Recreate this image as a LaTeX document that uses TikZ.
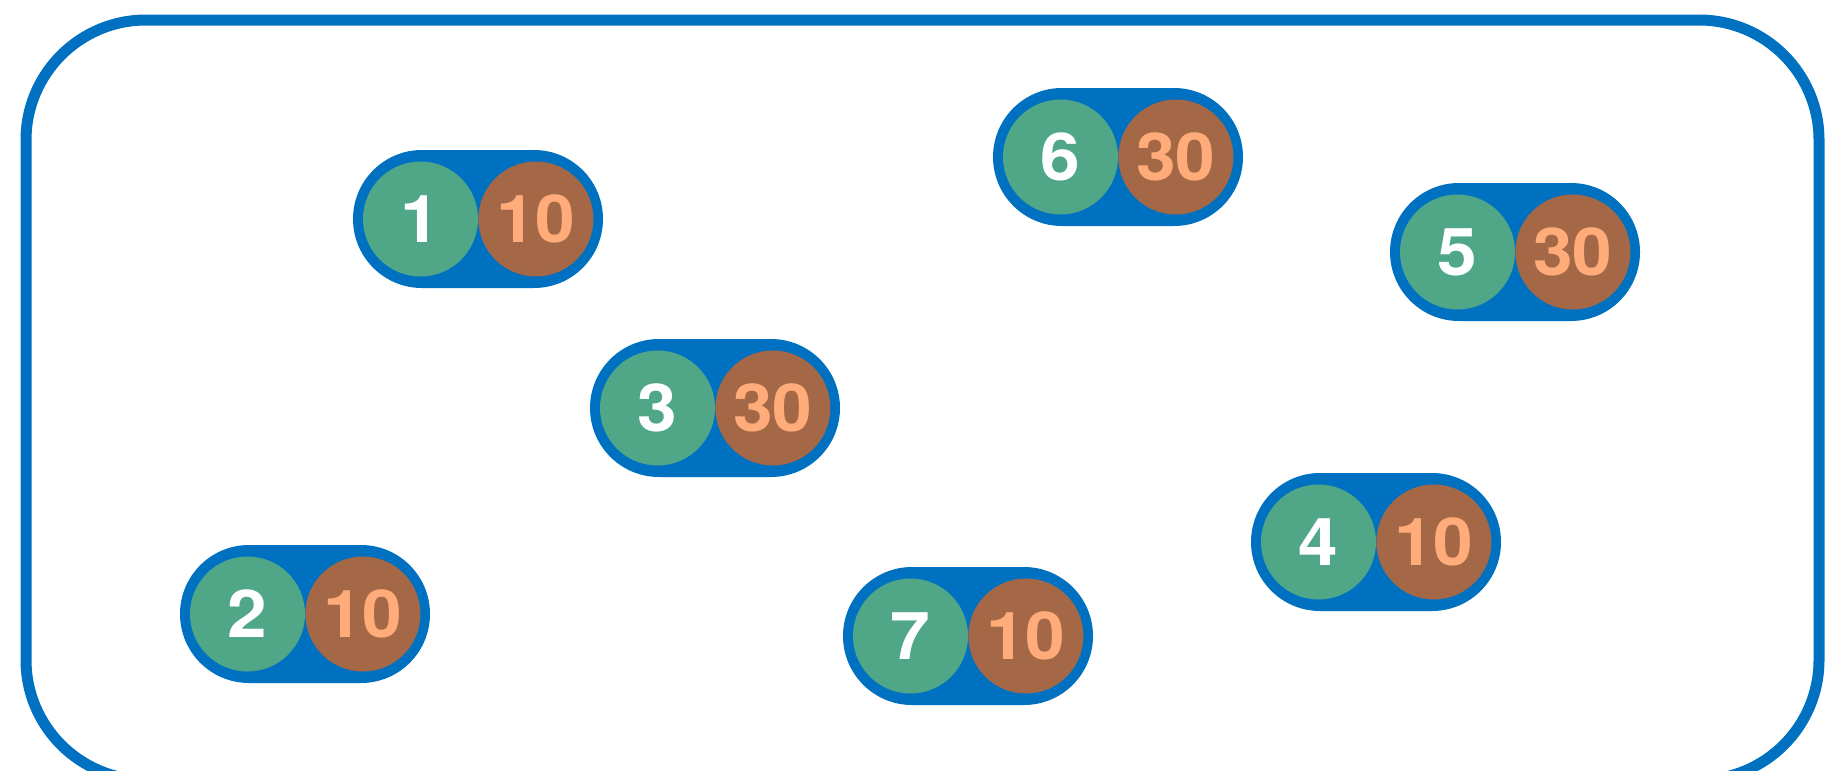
\documentclass[tikz,border=0pt]{standalone}
\usepackage{fontspec}
\setmainfont{TeX Gyre Heros}
\newfontfamily\digitfont[FakeStretch=1.08]{TeX Gyre Heros}
\usetikzlibrary{positioning}

\definecolor{frameblue}{RGB}{0,112,192}
\definecolor{idgreen}{RGB}{79,167,136}
\definecolor{valbrown}{RGB}{164,104,70}
\definecolor{valtext}{RGB}{255,172,122}

\tikzset{
  frame/.style={draw=frameblue, line width=11pt, rounded corners=120pt},
  pill/.style={rectangle, fill=frameblue, rounded corners=69pt, inner sep=0pt,
    minimum width=250pt, minimum height=138pt},
  idnode/.style={circle, fill=idgreen, text=white, inner sep=0pt, minimum size=115pt,
    font=\digitfont\fontsize{66}{66}\selectfont\bfseries},
  valnode/.style={circle, fill=valbrown, text=valtext, inner sep=0pt, minimum size=115pt,
    font=\digitfont\fontsize{66}{66}\selectfont\bfseries},
}

\begin{document}
\begin{tikzpicture}[x=1pt, y=-1pt]
    \useasboundingbox (0,0) rectangle (1842,771);

        % Outer frame
        \draw[frame] (26,20) rectangle (1819,780);

        % Define pills
        \node[pill] (p1) at (478,219) {};
        \node[pill] (p2) at (305,614) {};
        \node[pill] (p3) at (715,408) {};
        \node[pill] (p4) at (1376,542) {};
        \node[pill] (p5) at (1515,252) {};
        \node[pill] (p6) at (1118,157) {};
        \node[pill] (p7) at (968,636) {};

        % Ids and values
        \node[idnode, xshift=-57.5pt] (i1) at (p1) {1};
        \node[valnode, right=0pt of i1] (v1) {10};
        \node[idnode, xshift=-57.5pt] (i2) at (p2) {2};
        \node[valnode, right=0pt of i2] (v2) {10};
        \node[idnode, xshift=-57.5pt] (i3) at (p3) {3};
        \node[valnode, right=0pt of i3] (v3) {30};
        \node[idnode, xshift=-57.5pt] (i4) at (p4) {4};
        \node[valnode, right=0pt of i4] (v4) {10};
        \node[idnode, xshift=-57.5pt] (i5) at (p5) {5};
        \node[valnode, right=0pt of i5] (v5) {30};
        \node[idnode, xshift=-57.5pt] (i6) at (p6) {6};
        \node[valnode, right=0pt of i6] (v6) {30};
        \node[idnode, xshift=-57.5pt] (i7) at (p7) {7};
        \node[valnode, right=0pt of i7] (v7) {10};

\end{tikzpicture}
\end{document}
